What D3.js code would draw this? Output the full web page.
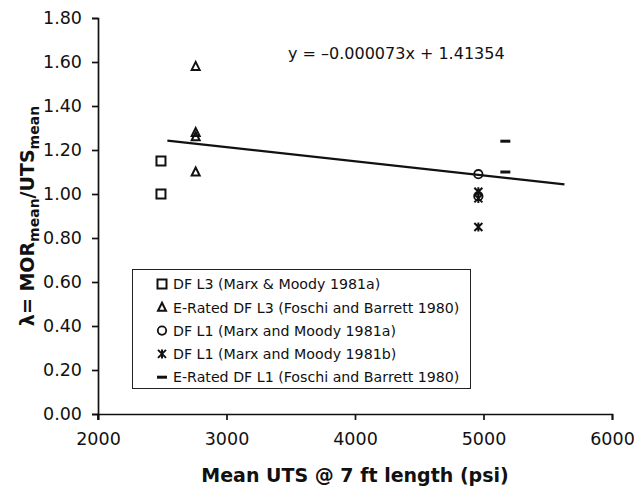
<!DOCTYPE html>
<html><head><meta charset="utf-8">
<script src="https://cdn.jsdelivr.net/npm/d3@7"></script>
<style>body{margin:0;background:#fff}svg{display:block}text{font-family:"DejaVu Sans",Verdana,sans-serif;fill:#111}</style>
</head><body>
<svg id="c" width="634" height="489"></svg>
<script>
const xTicks = [2000, 3000, 4000, 5000, 6000];
const yTicks = [0, 0.2, 0.4, 0.6, 0.8, 1.0, 1.2, 1.4, 1.6, 1.8];
const seriesNames = [
  "DF L3 (Marx & Moody 1981a)",
  "E-Rated DF L3 (Foschi and Barrett 1980)",
  "DF L1 (Marx and Moody 1981a)",
  "DF L1 (Marx and Moody 1981b)",
  "E-Rated DF L1 (Foschi and Barrett 1980)"
];
const seriesSymbols = ["square", "triangle", "circle", "asterisk", "dash"];
const sqX = [2490, 2490];              const sqY = [1.15, 1.00];
const triX = [2760, 2760, 2760, 2760]; const triY = [1.58, 1.28, 1.26, 1.10];
const cirX = [4960, 4960];             const cirY = [1.09, 0.99];
const astX = [4960, 4960, 4960];       const astY = [1.01, 0.98, 0.85];
const dashX = [5170, 5170];            const dashY = [1.24, 1.10];
const trendX = [2540, 5630];
const trendY = [1.243, 1.044];
const equation = "y = \u20130.000073x + 1.41354";

const svg = d3.select("#c");
const x = d3.scaleLinear().domain([2000, 6000]).range([98, 612]);
const y = d3.scaleLinear().domain([0, 1.8]).range([414, 18]);

const xa = svg.append("g").attr("transform", "translate(0,414)")
  .call(d3.axisBottom(x).tickValues(xTicks).tickFormat(d3.format("d")).tickSizeOuter(0).tickSize(6));
const ya = svg.append("g").attr("transform", "translate(98,0)")
  .call(d3.axisLeft(y).tickValues(yTicks).tickFormat(d3.format(".2f")).tickSizeOuter(0).tickSize(6));
[xa, ya].forEach(a => {
  a.select(".domain").attr("stroke", "#111").attr("stroke-width", 1.7);
  a.selectAll(".tick line").attr("stroke", "#111").attr("stroke-width", 1.7);
  a.selectAll(".tick text").style("font-family", "'DejaVu Sans',Verdana,sans-serif").style("font-size", "17.5px").attr("fill", "#111");
});
xa.selectAll(".tick text").attr("dy", "1.26em");
ya.selectAll(".tick text").attr("x", -16);
svg.append("line").attr("x1", 98).attr("x2", 98).attr("y1", y(0)).attr("y2", y(0) + 6).attr("stroke", "#111").attr("stroke-width", 1.7);

svg.append("line").attr("x1", x(trendX[0])).attr("y1", y(trendY[0]))
  .attr("x2", x(trendX[1])).attr("y2", y(trendY[1]))
  .attr("stroke", "#111").attr("stroke-width", 2.2);

svg.append("text").attr("x", 288).attr("y", 59).style("font-size", "16px").text(equation);

function sym(g, type, cx, cy) {
  const s = "#111";
  if (type === "square") g.append("rect").attr("x", cx - 4.5).attr("y", cy - 4.5).attr("width", 9).attr("height", 9).attr("fill", "none").attr("stroke", s).attr("stroke-width", 2);
  if (type === "triangle") g.append("path").attr("d", `M${cx},${cy - 4.5}L${cx + 4},${cy + 3.5}L${cx - 4},${cy + 3.5}Z`).attr("fill", "none").attr("stroke", s).attr("stroke-width", 2);
  if (type === "circle") g.append("circle").attr("cx", cx).attr("cy", cy).attr("r", 4.2).attr("fill", "none").attr("stroke", s).attr("stroke-width", 1.8);
  if (type === "asterisk") g.append("path").attr("d", `M${cx - 4},${cy - 4}L${cx + 4},${cy + 4}M${cx + 4},${cy - 4}L${cx - 4},${cy + 4}M${cx},${cy - 4.5}L${cx},${cy + 4.5}`).attr("fill", "none").attr("stroke", s).attr("stroke-width", 2);
  if (type === "dash") g.append("rect").attr("x", cx - 5).attr("y", cy - 1.5).attr("width", 10).attr("height", 3).attr("fill", s);
}
const pts = svg.append("g");
[[sqX, sqY, "square"], [triX, triY, "triangle"], [cirX, cirY, "circle"], [astX, astY, "asterisk"], [dashX, dashY, "dash"]]
  .forEach(([xs, ys, t]) => xs.forEach((v, i) => sym(pts, t, x(v), y(ys[i]))));

const lg = svg.append("g");
lg.append("rect").attr("x", 132.5).attr("y", 269.5).attr("width", 338).attr("height", 119).attr("fill", "#fff").attr("stroke", "#222").attr("stroke-width", 1);
seriesNames.forEach((n, i) => {
  const cy = 284 + i * 23.3;
  sym(lg, seriesSymbols[i], 162, cy);
  lg.append("text").attr("x", 173).attr("y", cy + 5.2).style("font-size", "14.2px").text(n);
});

svg.append("text").attr("x", 355).attr("y", 482).attr("text-anchor", "middle").style("font-size", "19px").style("font-weight", "bold").text("Mean UTS @ 7 ft length (psi)");
const yt = svg.append("text").attr("transform", "translate(34,216) rotate(-90)").attr("text-anchor", "middle").style("font-size", "19px").style("font-weight", "bold");
yt.append("tspan").text("\u03bb= MOR");
yt.append("tspan").attr("dy", 5).style("font-size", "14px").text("mean");
yt.append("tspan").attr("dy", -5).text("/UTS");
yt.append("tspan").attr("dy", 5).style("font-size", "14px").text("mean");
</script>
</body></html>
